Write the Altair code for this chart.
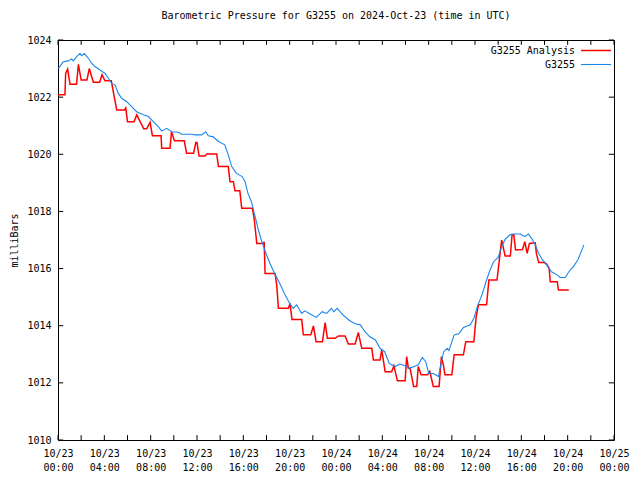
import altair as alt
import pandas as pd

# Hours since 2024-10-23 00:00 UTC
analysis_hours = [0.0, 0.6, 0.66, 0.83, 1.04, 1.6, 1.76, 2.0, 2.5, 2.7, 3.05, 3.6, 3.8, 4.06, 4.6, 4.8,
                  5.07, 5.75, 5.85, 6.0, 6.56, 6.8, 7.4, 7.66, 7.95, 8.15, 8.9, 8.95, 9.67, 9.8, 10.05,
                  10.9, 11.1, 11.7, 11.9, 12.0, 12.18, 12.7, 12.84, 13.7, 13.85, 14.7, 14.85, 15.14,
                  15.28, 15.7, 15.86, 16.78, 16.95, 17.16, 17.73, 17.8, 17.88, 18.74, 18.88, 19.03,
                  19.89, 20.03, 20.2, 21.04, 21.18, 21.82, 22.05, 22.28, 22.83, 23.06, 23.26, 23.92,
                  24.2, 24.78, 25.07, 25.65, 25.93, 26.22, 27.09, 27.23, 27.8, 27.95, 28.24, 28.8,
                  29.0, 29.3, 29.97, 30.1, 30.25, 30.4, 30.7, 30.97, 31.1, 31.35, 31.9, 32.1, 32.4,
                  32.9, 33.1, 33.3, 33.4, 34.0, 34.2, 35.0, 35.2, 35.9, 36.1, 36.3, 37.0, 37.2, 37.9,
                  38.2, 38.3, 38.6, 39.05, 39.2, 39.35, 39.5, 40.1, 40.3, 40.5, 40.7, 41.2, 41.3,
                  41.5, 42.0, 42.2, 42.4, 42.5, 43.1, 43.2, 44.1]
analysis_values = [1022.08, 1022.08, 1022.83, 1022.98, 1022.45, 1022.45, 1023.15, 1022.6, 1022.6, 1023.0,
                   1022.52, 1022.52, 1022.78, 1022.57, 1022.57, 1022.13, 1021.55, 1021.55, 1021.62,
                   1021.14, 1021.14, 1021.38, 1020.89, 1020.89, 1021.12, 1020.65, 1020.65, 1020.21,
                   1020.21, 1020.79, 1020.47, 1020.47, 1020.04, 1020.04, 1020.41, 1020.41, 1019.94,
                   1019.94, 1020.01, 1020.01, 1019.57, 1019.57, 1019.04, 1019.04, 1018.72, 1018.72,
                   1018.11, 1018.11, 1017.70, 1016.88, 1016.88, 1016.94, 1015.83, 1015.83, 1015.43,
                   1014.61, 1014.61, 1014.78, 1014.22, 1014.22, 1013.68, 1013.68, 1013.99, 1013.44,
                   1013.44, 1014.11, 1013.56, 1013.56, 1013.64, 1013.64, 1013.36, 1013.36, 1013.76,
                   1013.21, 1013.21, 1012.80, 1012.80, 1013.15, 1012.39, 1012.39, 1012.6, 1012.07,
                   1012.07, 1012.92, 1012.51, 1012.5, 1011.87, 1011.87, 1012.57, 1012.28, 1012.28,
                   1012.4, 1011.87, 1011.87, 1012.92, 1012.57, 1012.28, 1012.28, 1012.98, 1012.98,
                   1013.44, 1013.44, 1014.31, 1014.73, 1014.73, 1015.6, 1015.6, 1016.65, 1017.0,
                   1016.44, 1016.44, 1017.18, 1017.18, 1016.65, 1016.67, 1016.94, 1016.53, 1016.88,
                   1016.9, 1016.53, 1016.21, 1016.21, 1016.15, 1016.0, 1015.54, 1015.54, 1015.25, 1015.25]

station_hours = [0.03, 0.46, 0.89, 1.18, 1.32, 1.61, 1.90, 2.04, 2.27, 2.62, 2.91, 3.20, 3.63, 4.06, 4.35,
                 4.63, 4.92, 5.21, 5.50, 5.93, 6.36, 6.79, 7.37, 7.80, 8.23, 8.66, 8.95, 9.38, 9.82,
                 10.39, 10.68, 11.5, 11.83, 12.4, 12.75, 12.98, 13.4, 13.85, 14.4, 14.7, 15.0, 15.4,
                 15.9, 16.15, 16.4, 16.7, 16.95, 17.3, 17.6, 17.9, 18.3, 18.7, 19.2, 19.6, 20.0, 20.3,
                 20.6, 21.04, 21.3, 21.8, 22.3, 22.8, 23.2, 23.6, 23.8, 24.1, 24.6, 25.1, 25.6, 26.1,
                 26.5, 26.9, 27.4, 27.8, 28.2, 28.6, 29.1, 29.5, 30.0, 30.25, 30.6, 31.1, 31.45, 31.75,
                 32.0, 32.4, 32.85, 33.1, 33.3, 33.6, 33.75, 34.2, 34.6, 35.0, 35.6, 35.9, 36.2, 36.6,
                 37.0, 37.3, 37.6, 38.0, 38.3, 38.6, 39.0, 39.3, 39.9, 40.3, 40.6, 40.9, 41.2, 41.5,
                 41.8, 42.2, 42.6, 43.1, 43.35, 43.8, 44.1, 44.5, 44.9, 45.4]
station_values = [1023.00, 1023.24, 1023.27, 1023.34, 1023.27, 1023.42, 1023.53, 1023.45, 1023.53, 1023.36,
                  1023.18, 1023.07, 1022.95, 1022.83, 1022.66, 1022.48, 1022.43, 1022.13, 1021.96,
                  1021.84, 1021.67, 1021.49, 1021.38, 1021.32, 1021.14, 1020.97, 1020.81, 1020.91,
                  1020.79, 1020.77, 1020.70, 1020.70, 1020.68, 1020.68, 1020.79, 1020.65, 1020.61,
                  1020.45, 1020.33, 1019.98, 1019.57, 1019.33, 1019.22, 1019.04, 1018.63, 1018.34,
                  1017.93, 1017.35, 1016.94, 1016.59, 1016.18, 1015.83, 1015.43, 1015.08, 1014.78,
                  1014.61, 1014.73, 1014.43, 1014.52, 1014.40, 1014.29, 1014.49, 1014.43, 1014.61,
                  1014.49, 1014.61, 1014.38, 1014.20, 1014.08, 1014.03, 1013.79, 1013.62, 1013.50,
                  1013.21, 1013.09, 1012.68, 1012.57, 1012.66, 1012.60, 1012.51, 1012.55, 1012.63,
                  1012.89, 1012.74, 1012.33, 1012.33, 1012.22, 1012.74, 1013.09, 1013.21, 1013.13,
                  1013.68, 1013.72, 1013.94, 1014.03, 1014.26, 1014.67, 1015.08, 1015.60, 1015.95,
                  1016.24, 1016.39, 1016.77, 1017.02, 1017.18, 1017.21, 1017.21, 1017.12, 1017.21,
                  1017.05, 1016.83, 1016.53, 1016.32, 1016.13, 1015.89, 1015.78, 1015.69, 1015.69,
                  1015.89, 1016.07, 1016.32, 1016.83]

series_names = ["G3255 Analysis", "G3255"]
series_colors = ["#ff0000", "#1a86f0"]
series_widths = [1.5, 1.1]

x_tick_hours = list(range(0, 49, 2))
x_label_hours = list(range(0, 49, 4))
y_tick_values = [1010, 1012, 1014, 1016, 1018, 1020, 1022, 1024]

X_MIN, X_MAX = 0, 48
Y_MIN, Y_MAX = 1010, 1024
FONT = "DejaVu Sans Mono"

lines_df = pd.concat([
    pd.DataFrame({"hour": analysis_hours, "mb": analysis_values, "series": series_names[0]}),
    pd.DataFrame({"hour": station_hours, "mb": station_values, "series": series_names[1]}),
])

# inward tick segments (gnuplot style), built from the tick arrays
xlen = 0.45
ylen = 0.17
segs = []
for h in x_tick_hours:
    segs.append({"x": h, "x2": h, "y": Y_MIN, "y2": Y_MIN + ylen})
    segs.append({"x": h, "x2": h, "y": Y_MAX, "y2": Y_MAX - ylen})
for v in y_tick_values:
    segs.append({"x": X_MIN, "x2": X_MIN + xlen, "y": v, "y2": v})
    segs.append({"x": X_MAX, "x2": X_MAX - xlen, "y": v, "y2": v})
ticks_df = pd.DataFrame(segs)

xscale = alt.Scale(domain=[X_MIN, X_MAX], nice=False, zero=False)
yscale = alt.Scale(domain=[Y_MIN, Y_MAX], nice=False, zero=False)

label_expr = ("['10/' + (23 + floor(datum.value / 24)), "
              "(datum.value % 24 < 10 ? '0' : '') + (datum.value % 24) + ':00']")

x_axis = alt.Axis(values=x_label_hours, labelExpr=label_expr, title=None, grid=False,
                  domain=False, ticks=False, labelPadding=8, labelLineHeight=14,
                  labelFont=FONT, labelFontSize=10, labelColor="black",
                  labelFlush=False, labelOverlap=False)
y_axis = alt.Axis(values=y_tick_values, format="d", title="milliBars", grid=False,
                  domain=False, ticks=False, labelPadding=7, labelFont=FONT,
                  labelFontSize=10, labelColor="black", titleFont=FONT,
                  titleFontSize=10, titleFontWeight="normal", titleColor="black",
                  titleX=-44, titleY=200, titleAngle=270, titleAlign="center",
                  titleBaseline="middle", labelFlush=False)

lines = alt.Chart(lines_df).mark_line(clip=True).encode(
    x=alt.X("hour:Q", scale=xscale, axis=x_axis),
    y=alt.Y("mb:Q", scale=yscale, axis=y_axis),
    color=alt.Color("series:N",
                    scale=alt.Scale(domain=series_names, range=series_colors),
                    sort=series_names,
                    legend=alt.Legend(title=None, orient="none", legendX=532, legendY=4.5,
                                      symbolType="M-3,0H3", symbolSize=100,
                                      symbolStrokeWidth=1.2,
                                      labelAlign="right", labelOffset={"expr": "-27"},
                                      labelFont=FONT, labelFontSize=10, labelColor="black",
                                      rowPadding=3, padding=0, labelLimit=300)),
    strokeWidth=alt.StrokeWidth("series:N",
                                scale=alt.Scale(domain=series_names, range=series_widths),
                                legend=None),
)

ticks = alt.Chart(ticks_df).mark_rule(color="black", strokeWidth=1).encode(
    x=alt.X("x:Q", scale=xscale, axis=x_axis),
    x2="x2:Q",
    y=alt.Y("y:Q", scale=yscale, axis=y_axis),
    y2="y2:Q",
)

chart = alt.layer(lines, ticks).properties(
    width=556,
    height=400,
    title=alt.TitleParams("Barometric Pressure for G3255 on 2024-Oct-23 (time in UTC)",
                          font=FONT, fontSize=10, fontWeight="normal", color="black",
                          anchor="middle", offset=14),
    autosize=alt.AutoSizeParams(type="none"),
    padding={"left": 50, "top": 32, "right": 18, "bottom": 32},
    background="white",
).configure_view(stroke="black", strokeWidth=1)

chart.save("out.html", embed_options={"renderer": "svg", "actions": False})
